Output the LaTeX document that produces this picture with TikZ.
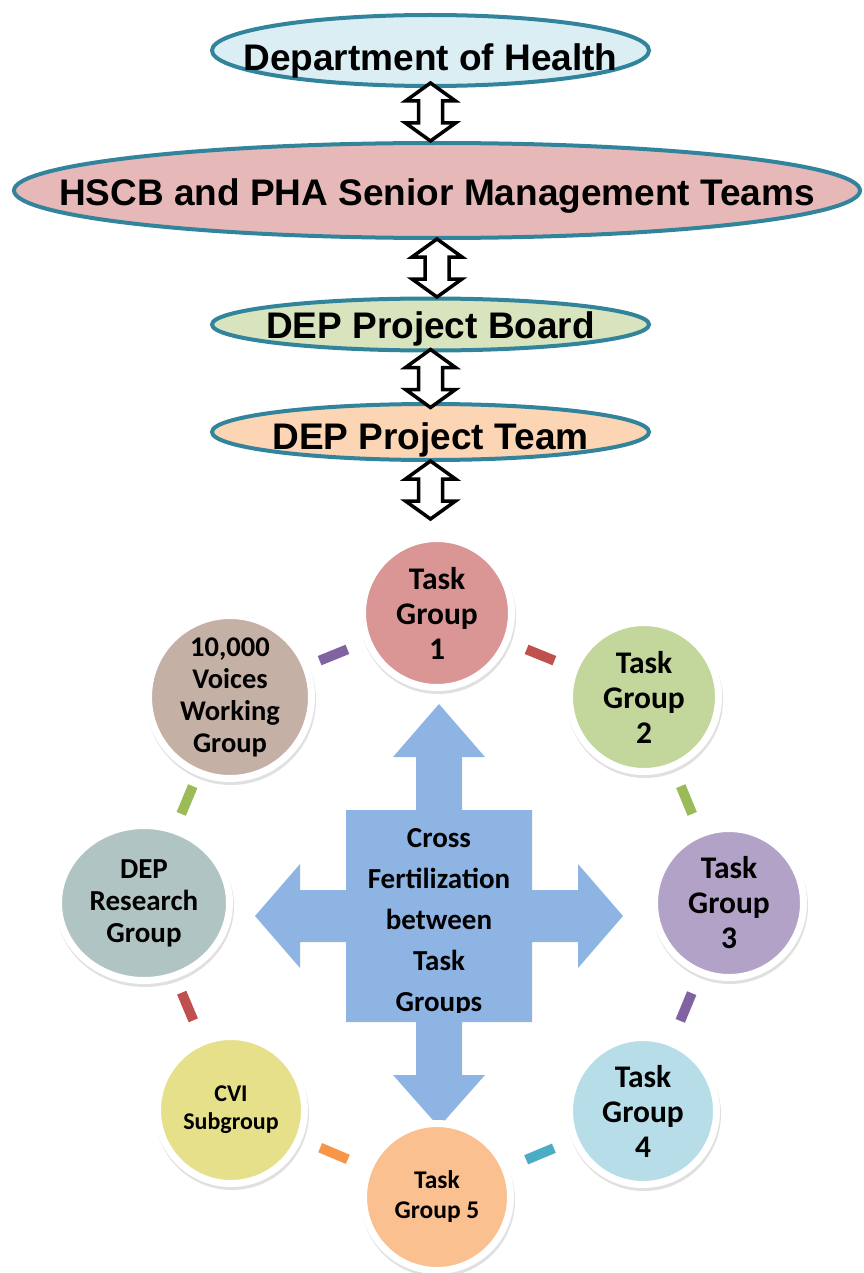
\documentclass[tikz,border=0pt]{standalone}
\usepackage{fontspec}
\setmainfont{Carlito}
\newfontfamily\headfont{Liberation Sans}
\usepackage{tikz}
\usetikzlibrary{shapes.geometric}
\usetikzlibrary{shadows}
\usetikzlibrary{calc}

\definecolor{edgeteal}{HTML}{31849B}
\definecolor{dohblue}{HTML}{DBEEF4}
\definecolor{hscbpink}{HTML}{E6B9B8}
\definecolor{boardgreen}{HTML}{D7E4BD}
\definecolor{teampeach}{HTML}{FCD5B5}
\definecolor{crossblue}{HTML}{8EB4E3}
\definecolor{tgone}{HTML}{D99694}
\definecolor{tgtwo}{HTML}{C3D69B}
\definecolor{tgthree}{HTML}{B3A2C7}
\definecolor{tgfour}{HTML}{B7DEE8}
\definecolor{tgfive}{HTML}{FAC090}
\definecolor{cviyellow}{HTML}{E6E08A}
\definecolor{researchgrey}{HTML}{AFC4C3}
\definecolor{voicesbrown}{HTML}{C4B0A5}
\definecolor{dred}{HTML}{C0504D}
\definecolor{dgreen}{HTML}{9BBB59}
\definecolor{dpurple}{HTML}{8064A2}
\definecolor{dteal}{HTML}{4BACC6}
\definecolor{dorange}{HTML}{F79646}

\begin{document}
\begin{tikzpicture}[x=1pt, y=-1pt]
    \tikzstyle{level} = [ellipse, draw=edgeteal, line width=4pt, inner sep=0pt, minimum width=437pt];
    \tikzstyle{headtext} = [font=\headfont\bfseries\fontsize{37}{44}\selectfont, text=black];
    \tikzstyle{group} = [circle, draw=white, line width=7pt, inner sep=0pt, minimum size=149pt, drop shadow={shadow xshift=1pt, shadow yshift=-3pt, fill=black, draw=black, line width=7pt, opacity=0.12}];
    \tikzstyle{grouptext} = [font=\bfseries\fontsize{31.5}{35}\selectfont, align=center];
    \tikzstyle{tie} = [line width=10pt];
    \tikzset{updown/.pic={
        \draw[line width=3.5pt, fill=white, miter limit=10] (0,-29) -- (25,-11) -- (12,-11) -- (12,11) -- (25,11) -- (0,29) -- (-25,11) -- (-12,11) -- (-12,-11) -- (-25,-11) -- cycle;
    }}
    \useasboundingbox (0,0) rectangle (863,1273);

    \node[level, fill=dohblue, minimum height=71pt, label={[headtext, yshift=-10pt]center:Department of Health}] (doh) at (430.5,50.5) {};
    \node[level, fill=hscbpink, minimum width=846pt, minimum height=95pt, label={[headtext, yshift=-6pt]center:HSCB and PHA Senior Management Teams}] (hscb) at (437,190.5) {};
    \node[level, fill=boardgreen, minimum height=52pt, label={[headtext, yshift=-4pt]center:DEP Project Board}] (board) at (430.5,324.5) {};
    \node[level, fill=teampeach, minimum height=56pt, label={[headtext, yshift=-8pt]center:DEP Project Team}] (team) at (430.5,432) {};

    \foreach \n/\d in {doh/24, hscb/28, board/26, team/28}
        \pic at ([yshift=-\d pt]\n.south) {updown};

    \fill[crossblue, shift={(439,916)}] (0,-212) -- (46,-159) -- (23,-159) -- (23,-106) -- (93,-106) -- (93,-26) -- (139,-26) -- (139,-52) -- (184,0) -- (139,52) -- (139,26) -- (93,26) -- (93,106) -- (23,106) -- (23,159) -- (46,159) -- (0,211) -- (-46,159) -- (-23,159) -- (-23,106) -- (-93,106) -- (-93,26) -- (-139,26) -- (-139,52) -- (-184,0) -- (-139,-52) -- (-139,-26) -- (-93,-26) -- (-93,-106) -- (-23,-106) -- (-23,-159) -- (-46,-159) -- cycle;
    \begin{scope}
        \clip (300,800) rectangle (580,1012);
        \node[font=\bfseries\fontsize{29}{41}\selectfont, align=center] (hub) at (439,922) {Cross\\Fertilization\\between\\Task\\Groups};
    \end{scope}

    \node[group, fill=tgone, label={[grouptext]center:Task\\Group\\1}] (tg1) at (437,613) {};
    \node[group, fill=tgtwo, label={[grouptext]center:Task\\Group\\2}] (tg2) at (644,697) {};
    \node[group, fill=tgthree, label={[grouptext]center:Task\\Group\\3}] (tg3) at (729,903) {};
    \node[group, fill=tgfour, minimum size=147pt, label={[grouptext]center:Task\\Group\\4}] (tg4) at (643,1111) {};
    \node[group, fill=tgfive, minimum size=147pt, label={[grouptext, font=\bfseries\fontsize{25.5}{30}\selectfont]center:Task\\Group 5}] (tg5) at (437,1197) {};
    \node[group, fill=cviyellow, minimum size=147pt, label={[grouptext, font=\bfseries\fontsize{24}{28}\selectfont]center:CVI\\Subgroup}] (cvi) at (231,1110) {};
    \node[group, fill=researchgrey, ellipse, minimum width=171pt, minimum height=155pt, label={[grouptext, font=\bfseries\fontsize{29}{32}\selectfont]center:DEP\\Research\\Group}] (research) at (144,903) {};
    \node[group, fill=voicesbrown, minimum size=163pt, label={[grouptext, font=\bfseries\fontsize{28.5}{32}\selectfont]center:{10,000\\Voices\\Working\\Group}}] (voices) at (230,697) {};

    \foreach \a/\b/\c in {tg1/tg2/dred, tg2/tg3/dgreen, tg3/tg4/dpurple, tg4/tg5/dteal, tg5/cvi/dorange, cvi/research/dred, research/voices/dgreen, voices/tg1/dpurple}
        \draw[tie, \c] ($(\a)!0.5!(\b)!15pt!(\a)$) -- ($(\a)!0.5!(\b)!15pt!(\b)$);
\end{tikzpicture}
\end{document}
